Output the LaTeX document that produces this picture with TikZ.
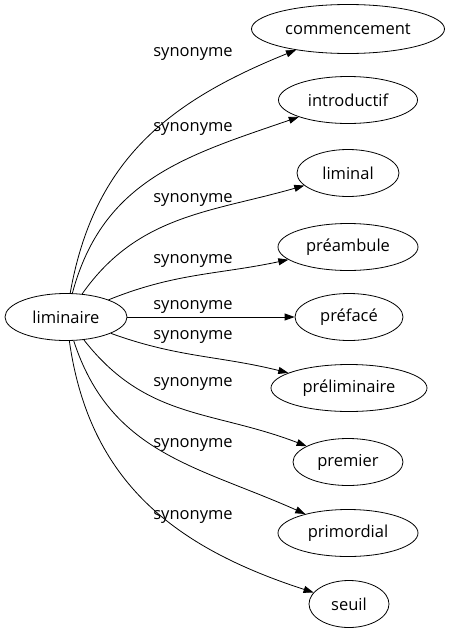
\documentclass[tikz,border=0pt]{standalone}
\usepackage{fontspec}
\setmainfont{Open Sans}
\usetikzlibrary{shapes.geometric,arrows.meta}
\begin{document}
\begin{tikzpicture}[x=1pt, y=1pt, every node/.style={font=\fontsize{16.5}{19}\selectfont},
    word/.style={draw, line width=0.8pt, ellipse, inner sep=0pt, minimum height=47pt},
    syn/.style={line width=0.8pt, -{Triangle[length=10pt, width=7pt]}},
    lbl/.style={inner sep=0pt}]
    \useasboundingbox (0,0) rectangle (450,-635);
    \node[word, minimum width=122pt] (liminaire) at (66,-317) {liminaire};
    \node[word, minimum width=193pt, minimum height=49pt] (commencement) at (348,-29) {commencement};
    \node[word, minimum width=139pt] (introductif) at (348,-100) {introductif};
    \node[word, minimum width=102pt] (liminal) at (348,-173) {liminal};
    \node[word, minimum width=140pt] (preambule) at (348,-247) {préambule};
    \node[word, minimum width=108pt] (preface) at (349,-317) {préfacé};
    \node[word, minimum width=156pt] (preliminaire) at (349,-388) {préliminaire};
    \node[word, minimum width=110pt] (premier) at (348,-462) {premier};
    \node[word, minimum width=140pt] (primordial) at (348,-533) {primordial};
    \node[word, minimum width=80pt] (seuil) at (349,-604) {seuil};
    % edges
    \draw[syn] (liminaire) to[out=80, in=202, looseness=1.05] (commencement);
    \draw[syn] (liminaire) to[out=75, in=199, looseness=1.05] (introductif);
    \draw[syn] (liminaire) to[out=55, in=196] (liminal);
    \draw[syn] (liminaire) to[out=22, in=192] (preambule);
    \draw[syn] (liminaire) -- (preface);
    \draw[syn] (liminaire) to[out=-20, in=166] (preliminaire);
    \draw[syn] (liminaire) to[out=-52, in=159, looseness=1.05] (premier);
    \draw[syn] (liminaire) to[out=-72, in=156, looseness=1.05] (primordial);
    \draw[syn] (liminaire) to[out=-82, in=162, looseness=1.05] (seuil);
    % labels
    \node[lbl] (l1) at (193,-54) {synonyme};
    \node[lbl] (l2) at (193,-129) {synonyme};
    \node[lbl] (l3) at (193,-200) {synonyme};
    \node[lbl] (l4) at (193,-261) {synonyme};
    \node[lbl] (l5) at (193,-307) {synonyme};
    \node[lbl] (l6) at (193,-337) {synonyme};
    \node[lbl] (l7) at (193,-384) {synonyme};
    \node[lbl] (l8) at (193,-445) {synonyme};
    \node[lbl] (l9) at (193,-517) {synonyme};
\end{tikzpicture}
\end{document}
